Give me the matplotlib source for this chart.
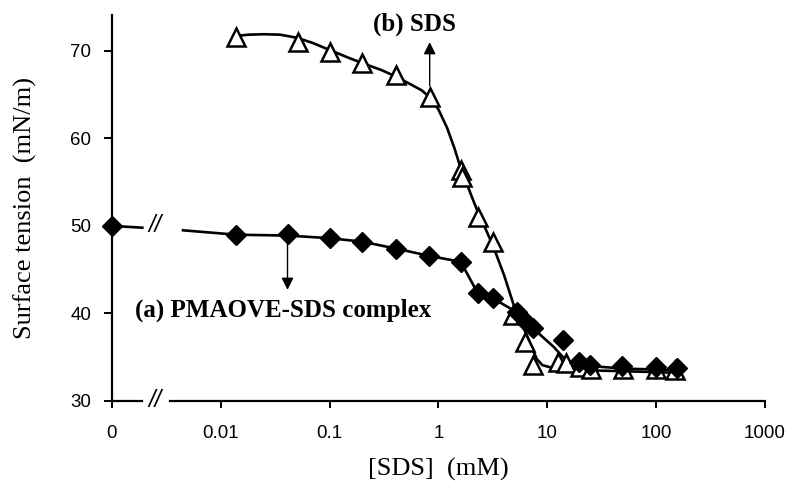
import matplotlib
matplotlib.use("Agg")
import matplotlib.pyplot as plt

# ---------------- data ----------------
sds_x = [0.0138, 0.051, 0.1, 0.2, 0.41, 0.83, 1.6, 1.65, 2.3, 3.2, 4.8, 6.3, 7.4,
         12.6, 15, 20, 25, 50, 100, 150]
sds_y = [71.6, 71.0, 69.9, 68.6, 67.2, 64.7, 56.4, 55.6, 51.0, 48.2, 39.8, 36.7, 34.1,
         34.5, 34.3, 33.9, 33.7, 33.6, 33.6, 33.5]

cplx_x = [0, 0.0138, 0.041, 0.1, 0.2, 0.41, 0.81, 1.6, 2.3, 3.2, 5.3, 6.4, 7.4,
          13.8, 19.6, 24.5, 49, 100, 155]
cplx_y = [50.0, 49.0, 49.1, 48.6, 48.2, 47.4, 46.6, 45.9, 42.3, 41.8, 40.2, 39.0, 38.3,
          37.0, 34.5, 34.1, 34.0, 33.9, 33.8]

# fitted / guide curves
sds_fit_x = [0.0138, 0.018, 0.025, 0.035, 0.05, 0.07, 0.1, 0.15, 0.2, 0.3, 0.4, 0.55,
             0.7, 0.83, 1.0, 1.2, 1.4, 1.6, 2.0, 2.3, 2.7, 3.2, 4.0, 4.9, 5.8, 6.7,
             7.4, 8.0, 9.0, 11, 15, 25, 50, 100, 160]
sds_fit_y = [71.7, 71.85, 71.9, 71.85, 71.5, 70.9, 70.1, 69.2, 68.6, 67.8, 67.1, 66.2,
             65.5, 64.7, 63.3, 61.2, 58.9, 56.6, 53.5, 51.6, 49.7, 47.6, 44.4, 41.0,
             38.9, 37.1, 35.8, 34.8, 34.1, 33.8, 33.6, 33.5, 33.4, 33.3, 33.2]

cplx_fit_x = [0.0045, 0.0138, 0.041, 0.1, 0.2, 0.41, 0.81, 1.6, 2.3, 3.2, 5.3, 7.4,
              11.4, 15.7, 25, 50, 100, 155]
cplx_fit_y = [49.5, 49.0, 48.9, 48.6, 48.2, 47.4, 46.6, 45.9, 42.3, 41.7, 40.1, 38.3,
              36.2, 34.3, 34.0, 33.7, 33.6, 33.5]
cplx_zero_stub_y = [50.0, 49.8]

xtick_vals = [0, 0.01, 0.1, 1, 10, 100, 1000]
xtick_labels = ["0", "0.01", "0.1", "1", "10", "100", "1000"]
ytick_vals = [30, 40, 50, 60, 70]

label_a = "(a) PMAOVE-SDS complex"
label_b = "(b) SDS"

# ---------------- layout constants ----------------
X_ZERO = 1e-3          # plotting position of the "0" concentration
BREAK_L = 0.0019       # axis break, left end
BREAK_R = 0.0034       # axis break, right end
BREAK_MID = 0.0025


def xpos(v):
    return [X_ZERO if t == 0 else t for t in v]


fig = plt.figure(figsize=(7.88, 4.91), dpi=100)
ax = fig.add_axes([0.1421, 0.1833, 0.8287, 0.7862])
ax.set_xscale("log")
ax.set_xlim(X_ZERO, 1000)
ax.set_ylim(30, 74.1)

lw = 1.9
# curves
ax.plot(sds_fit_x, sds_fit_y, color="black", lw=lw, zorder=2)
ax.plot(cplx_fit_x, cplx_fit_y, color="black", lw=lw, zorder=2)
ax.plot([X_ZERO, BREAK_L], cplx_zero_stub_y, color="black", lw=lw, zorder=2,
        clip_on=False)

# markers
ax.plot(xpos(cplx_x), cplx_y, linestyle="none", marker="D", ms=10.5,
        color="black", zorder=4, clip_on=False)
ax.plot(sds_x, sds_y, linestyle="none", marker="^", ms=13, mfc="white",
        mec="black", mew=1.8, zorder=3)

# spines
for s in ["top", "right"]:
    ax.spines[s].set_visible(False)
ax.spines["left"].set_linewidth(1.6)
ax.spines["bottom"].set_bounds(BREAK_R, 1000)
ax.spines["bottom"].set_linewidth(1.6)
ax.plot([X_ZERO, BREAK_L], [30, 30], color="black", lw=1.6, clip_on=False, zorder=5)

# break marks
for yb in (30, 50):
    ax.text(BREAK_MID, yb, "//", ha="center", va="center", fontsize=17,
            family="Liberation Sans", style="italic")

# ticks
ax.set_xticks(xpos(xtick_vals))
ax.set_xticklabels(xtick_labels)
ax.minorticks_off()
ax.set_yticks(ytick_vals)
ax.tick_params(axis="x", direction="out", length=5, width=1.4, pad=12,
               labelsize=13.5, labelfontfamily="Liberation Sans")
ax.tick_params(axis="y", direction="out", length=6, width=1.4, pad=9,
               labelsize=13.5, labelfontfamily="Liberation Sans")

ax.set_xlabel("[SDS]  (mM)", family="Liberation Serif", fontsize=19, labelpad=12)
ax.set_ylabel("Surface tension  (mN/m)", family="Liberation Serif", fontsize=19,
              labelpad=24)

# annotations
ax.text(0.25, 73.0, label_b, family="Liberation Serif", weight="bold", fontsize=18,
        ha="left", va="center")
ax.text(0.00163, 40.4, label_a, family="Liberation Serif", weight="bold", fontsize=18,
        ha="left", va="center")
ax.annotate("", xy=(0.83, 71.0), xytext=(0.83, 66.0),
            arrowprops=dict(arrowstyle="-|>", color="black", lw=1.0,
                            mutation_scale=18, shrinkA=0, shrinkB=0))
ax.annotate("", xy=(0.041, 42.7), xytext=(0.041, 48.4),
            arrowprops=dict(arrowstyle="-|>", color="black", lw=1.0,
                            mutation_scale=18, shrinkA=0, shrinkB=0))

fig.savefig("out.png", dpi=100)
